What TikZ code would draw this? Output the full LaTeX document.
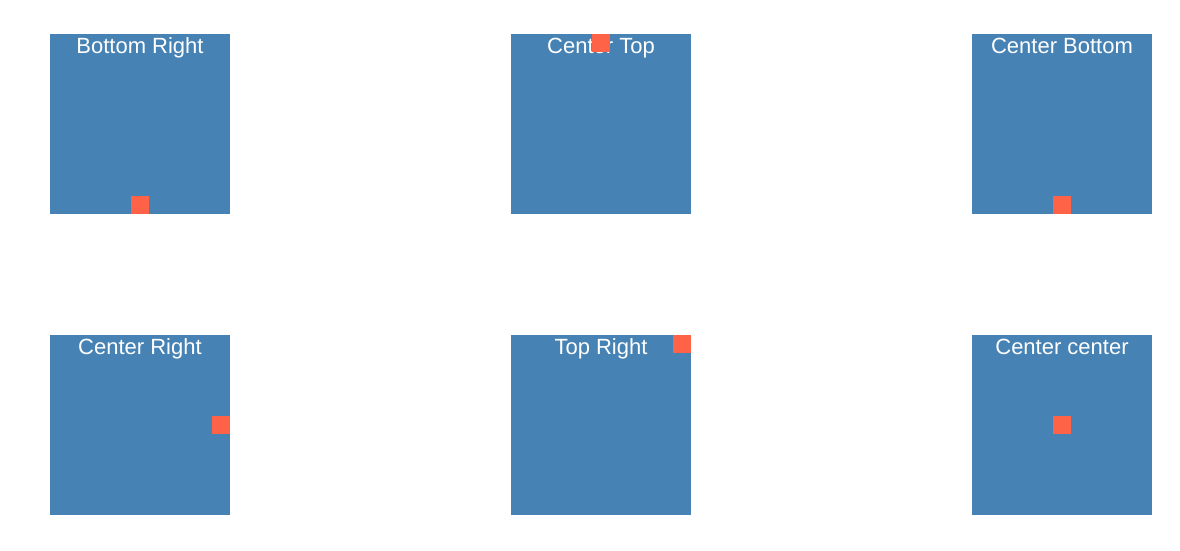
\documentclass[tikz,border=0pt]{standalone}
\usepackage{fontspec}
\setmainfont{Liberation Sans}
\usetikzlibrary{positioning}
\definecolor{panelBlue}{HTML}{4682B4}
\definecolor{dotRed}{HTML}{FF6347}

\begin{document}
\begin{tikzpicture}[x=1pt, y=-1pt,
    panel/.style={rectangle, fill=panelBlue, minimum width=180pt,
                  minimum height=180pt, inner sep=0pt, outer sep=0pt},
    dot/.style={rectangle, fill=dotRed, minimum size=18pt,
                inner sep=0pt, outer sep=0pt},
    caption/.style={anchor=base, inner sep=0pt, text=white,
                    font=\fontsize{22}{26}\selectfont},
  ]
    \useasboundingbox (0,0) rectangle (1180,551);

    % panels
    \node[panel] (p1) at (140,124) {};
    \node[panel] (p2) at (601,124) {};
    \node[panel] (p3) at (1062,124) {};
    \node[panel] (p4) at (140,425) {};
    \node[panel] (p5) at (601,425) {};
    \node[panel] (p6) at (1062,425) {};

    % captions
    \node[caption] (c1) at ([yshift=-19.5pt]p1.north) {Bottom Right};
    \node[caption] (c2) at ([yshift=-19.5pt]p2.north) {Center Top};
    \node[caption] (c3) at ([yshift=-19.5pt]p3.north) {Center Bottom};
    \node[caption] (c4) at ([yshift=-19.5pt]p4.north) {Center Right};
    \node[caption] (c5) at ([yshift=-19.5pt]p5.north) {Top Right};
    \node[caption] (c6) at ([yshift=-19.5pt]p6.north) {Center center};

    % dots
    \node[dot, anchor=south] (d1) at (p1.south) {};
    \node[dot, anchor=north] (d2) at (p2.north) {};
    \node[dot, anchor=south] (d3) at (p3.south) {};
    \node[dot, anchor=east] (d4) at (p4.east) {};
    \node[dot, anchor=north east] (d5) at (p5.north east) {};
    \node[dot] (d6) at (p6.center) {};
  \end{tikzpicture}
\end{document}
